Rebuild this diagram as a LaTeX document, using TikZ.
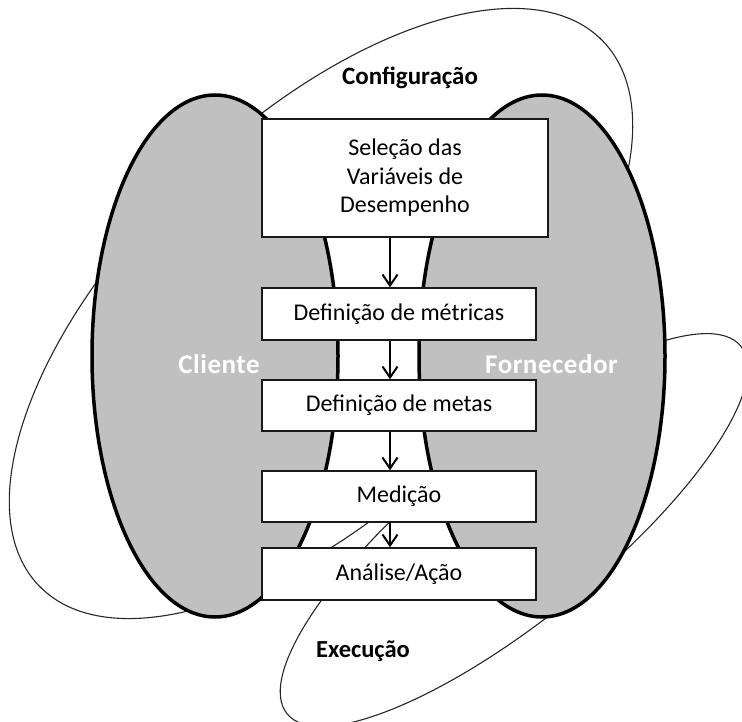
\documentclass[tikz,border=0pt]{standalone}
\usepackage{fontspec}
\setmainfont{Carlito}
\usetikzlibrary{arrows.meta}
\definecolor{lobe}{RGB}{192,192,192}
\begin{document}
\begin{tikzpicture}[x=1pt,y=-1pt,
  cycleline/.style={line width=1.1pt, draw=black!85},
  party/.style={fill=lobe, draw=black, line width=3.5pt},
  stage/.style={draw=black!90, line width=1.4pt, fill=white, inner sep=0pt,
    minimum width=274pt, minimum height=51pt, align=center,
    font=\fontsize{24}{28.5}\selectfont},
  flow/.style={line width=2pt, -{Straight Barb[length=11pt,width=15pt]}},
  phase/.style={anchor=base, font=\fontsize{25}{30}\selectfont\bfseries},
  partylabel/.style={anchor=base, text=white,
    font=\fontsize{27}{30}\selectfont\bfseries\addfontfeatures{LetterSpace=2}}]
\useasboundingbox (0,0) rectangle (742,722);

% the two cycle loops, drawn first so the lobes and boxes cover them
\draw[cycleline, rotate around={44:(321,313.5)}] (321,313.5) ellipse [x radius=392pt, y radius=191pt];
\draw[cycleline, rotate around={39:(514,530)}] (514,530) ellipse [x radius=292pt, y radius=89pt];

% client and supplier lobes
\draw[party] (215,356) ellipse [x radius=123pt, y radius=261pt];
\draw[party] (542,356) ellipse [x radius=123pt, y radius=261pt];

% process stages
\node[stage, minimum width=286pt, minimum height=118pt] (sel) at (405,178)
  {Seleção das\\Variáveis de\\Desempenho};
\node[stage, minimum height=52pt] (met) at (399,314) {Definição de métricas};
\node[stage] (goal) at (399,405.5) {Definição de metas};
\node[stage] (meas) at (399,496.5) {Medição};
\node[stage, minimum height=52pt] (act) at (399,574) {Análise/Ação};

% flow between stages
\coordinate (axis) at (390,0);
\draw[flow] (sel.south -| axis) -- (met.north -| axis);
\draw[flow] (met.south -| axis) -- (goal.north -| axis);
\draw[flow] (goal.south -| axis) -- (meas.north -| axis);
\draw[flow] (meas.south -| axis) -- (act.north -| axis);

% labels
\node[phase] (cfg) at (410,85) {Configuração};
\node[phase, font=\fontsize{24.5}{29}\selectfont\bfseries] (exe) at (363,657) {Execução};
\node[partylabel] (cli) at (219,373) {Cliente};
\node[partylabel] (sup) at (551.5,373) {Fornecedor};
\end{tikzpicture}
\end{document}
